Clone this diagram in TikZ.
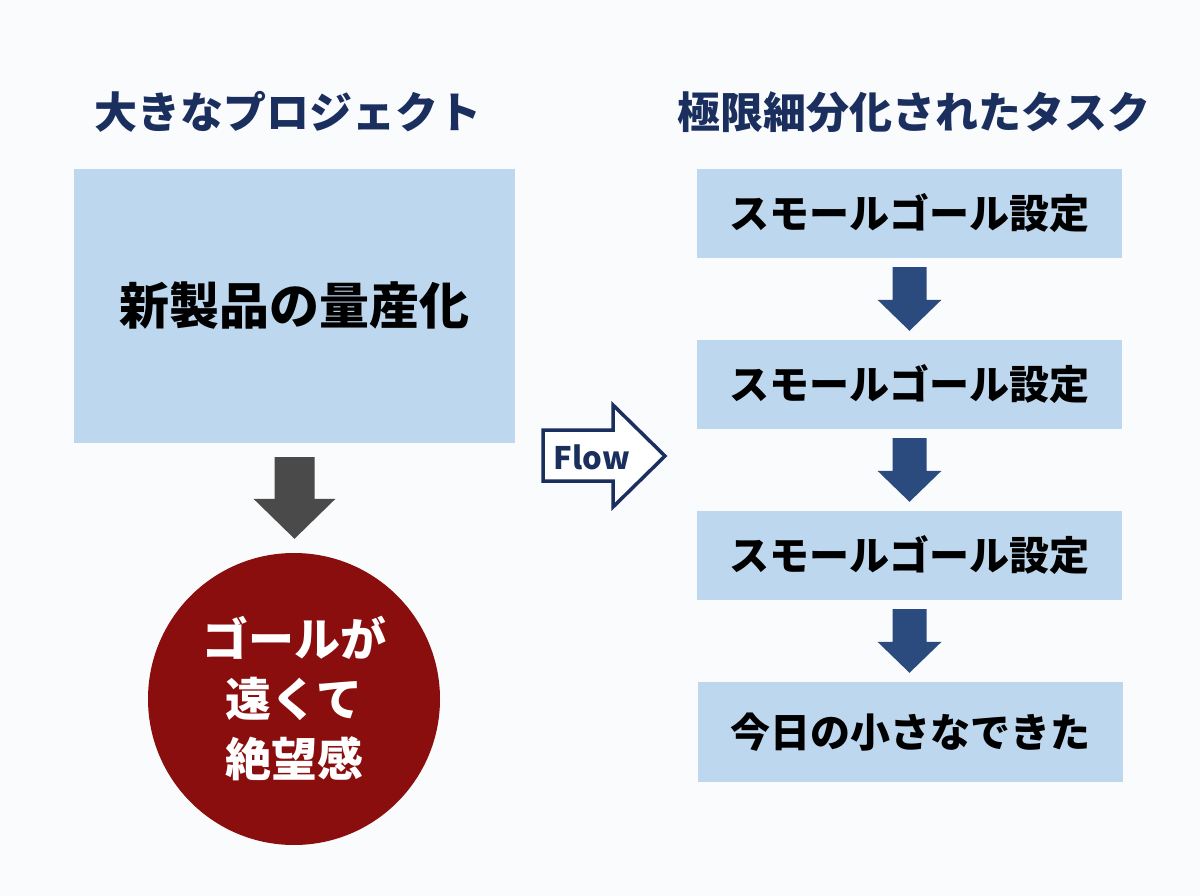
\documentclass[tikz,border=0pt]{standalone}
\usepackage{fontspec}
\setmainfont{Noto Sans CJK JP}
\usetikzlibrary{calc}

\definecolor{navy}{HTML}{1B2F5E}
\definecolor{arrowblue}{HTML}{2B4A7E}
\definecolor{boxblue}{HTML}{BDD7EE}
\definecolor{darkred}{HTML}{8A0E0E}
\definecolor{arrowgray}{HTML}{4A4A4A}
\definecolor{bgwhite}{HTML}{FAFBFC}

% block arrow: from, to, colour, gap, half shaft, half head, head length
\newcommand{\blockdown}[7]{%
  \fill[#3] let \p1=(#1.south), \p2=(#2.north) in
    (\x1-#5pt,\y1-#4pt) -- (\x1+#5pt,\y1-#4pt) -- (\x1+#5pt,\y2+#4pt+#7pt)
    -- (\x1+#6pt,\y2+#4pt+#7pt) -- (\x1,\y2+#4pt) -- (\x1-#6pt,\y2+#4pt+#7pt)
    -- (\x1-#5pt,\y2+#4pt+#7pt) -- cycle;}

\begin{document}
\begin{tikzpicture}[x=1pt, y=-1pt,
  title/.style={text=navy, font=\bfseries\fontsize{43}{50}\selectfont, inner sep=0pt},
  bigbox/.style={fill=boxblue, minimum width=441pt, minimum height=274pt, inner sep=0pt,
    font=\bfseries\fontsize{50}{58}\selectfont},
  stepbox/.style={fill=boxblue, minimum width=425pt, minimum height=89pt, inner sep=0pt,
    font=\bfseries\fontsize{40}{48}\selectfont}]
\fill[bgwhite] (0,0) rectangle (1200,896);
\useasboundingbox (0,0) rectangle (1200,896);
% Izquierda
\node[title] (lefttitle) at (288,112) {大きなプロジェクト};
\node[bigbox] (project) at (294.5,306) {新製品の量産化};
\node[circle, fill=darkred, minimum size=292pt, inner sep=0pt, text=white, align=center,
  font=\bfseries\fontsize{46}{60}\selectfont] (despair) at (294,699) {ゴールが\\遠くて\\絶望感};
\blockdown{project}{despair}{arrowgray}{14}{20}{41}{40}
% Flow
\draw[navy, line width=3.5pt, fill=white] (543,430) -- (613,430) -- (613,405) -- (665,456)
  -- (613,507) -- (613,481) -- (543,481) -- cycle;
\node[text=navy, font=\bfseries\fontsize{31}{36}\selectfont, inner sep=0pt] (flow) at (592,457) {Flow};
% Derecha
\node[title] (righttitle) at (914,112) {極限細分化されたタスク};
\node[stepbox] (goal1) at (909.5,213.5) {スモールゴール設定};
\node[stepbox] (goal2) at (909.5,384.5) {スモールゴール設定};
\node[stepbox] (goal3) at (909.5,555.5) {スモールゴール設定};
\node[stepbox, minimum height=100pt] (today) at (910,732) {今日の小さなできた};
\blockdown{goal1}{goal2}{arrowblue}{9}{17}{32}{31}
\blockdown{goal2}{goal3}{arrowblue}{9}{17}{32}{31}
\blockdown{goal3}{today}{arrowblue}{9}{17}{32}{31}
\end{tikzpicture}
\end{document}
